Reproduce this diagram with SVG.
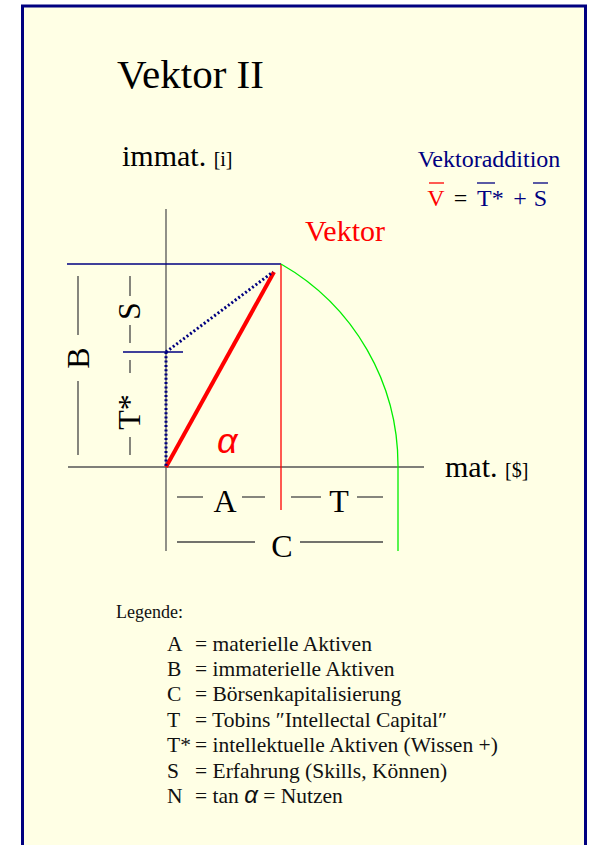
<svg xmlns="http://www.w3.org/2000/svg" width="589" height="845" viewBox="0 0 589 845">
<style>
.serif{font-family:"Liberation Serif","Times New Roman",serif;}
.ax{stroke:#555;stroke-width:1.3;fill:none;}
.dash{stroke:#444;stroke-width:1.3;fill:none;}
.nav{fill:#000080;}
.blk{fill:#000;}
.red{fill:#ff0000;}
.lg{font-family:"Liberation Serif","Times New Roman",serif;font-size:21.5px;fill:#111;}
.fm{font-family:"Liberation Serif","Times New Roman",serif;font-size:24px;}
</style>
<rect x="0" y="0" width="589" height="845" fill="#ffffff"/>
<rect x="22.5" y="6" width="563" height="860" fill="#ffffe5" stroke="#000080" stroke-width="3"/>

<g id="title"><text class="serif blk" x="117" y="88" font-size="41">Vektor II</text></g>

<g id="axis-labels">
<text class="serif blk" x="122" y="166" font-size="30">immat. <tspan font-size="20">[i]</tspan></text>
<text class="serif blk" x="445" y="477" font-size="30">mat. <tspan font-size="20">[$]</tspan></text>
</g>

<g id="vektoraddition">
<text class="serif nav" x="489" y="167" font-size="24" text-anchor="middle">Vektoraddition</text>
<text class="fm" x="436" y="206" text-anchor="middle" fill="#ff0000">V</text>
<text class="fm" x="460.5" y="206" text-anchor="middle" fill="#000">=</text>
<text class="fm" x="477" y="206" fill="#000080">T*</text>
<text class="fm" x="520" y="206" text-anchor="middle" fill="#000080">+</text>
<text class="fm" x="540.5" y="206" text-anchor="middle" fill="#000080">S</text>
<line x1="429" y1="183" x2="444" y2="183" stroke="#ff0000" stroke-width="1.3"/>
<line x1="477" y1="183" x2="495" y2="183" stroke="#000080" stroke-width="1.3"/>
<line x1="533" y1="183" x2="548" y2="183" stroke="#000080" stroke-width="1.3"/>
</g>

<g id="vektor-label"><text class="serif red" x="305" y="241" font-size="30">Vektor</text></g>

<g id="connectors">
<line class="ax" x1="166" y1="209" x2="166" y2="551"/>
<line class="ax" x1="68" y1="467" x2="424" y2="467"/>
<line x1="67" y1="264" x2="281" y2="264" stroke="#000080" stroke-width="1.3"/>
<line x1="281" y1="264" x2="281" y2="510" stroke="#ff0000" stroke-width="1.3"/>
<path d="M281 264 A232 232 0 0 1 398 467 L398 551" fill="none" stroke="#00ee00" stroke-width="1.3"/>
<line x1="123" y1="352" x2="183" y2="352" stroke="#000080" stroke-width="1.3"/>
<line x1="166" y1="467" x2="274" y2="272" stroke="#ff0000" stroke-width="4"/>
<line x1="166" y1="352" x2="273" y2="272" stroke="#000080" stroke-width="3" stroke-dasharray="2 2.3"/>
<line x1="166" y1="352" x2="166" y2="466" stroke="#000080" stroke-width="3" stroke-dasharray="2 2.3"/>
</g>

<g id="label-B">
<line class="dash" x1="78" y1="276" x2="78" y2="335"/>
<line class="dash" x1="78" y1="381" x2="78" y2="455"/>
<text class="serif blk" font-size="32" text-anchor="middle" transform="translate(89 358) rotate(-90)">B</text>
</g>
<g id="label-S">
<line class="dash" x1="130" y1="276" x2="130" y2="296"/>
<line class="dash" x1="130" y1="325" x2="130" y2="343"/>
<text class="serif blk" font-size="32" text-anchor="middle" transform="translate(140 311) rotate(-90)">S</text>
</g>
<g id="label-Tstar">
<line class="dash" x1="130" y1="360" x2="130" y2="373"/>
<line class="dash" x1="130" y1="437" x2="130" y2="455"/>
<text class="serif blk" font-size="32" text-anchor="middle" transform="translate(140 412) rotate(-90)">T*</text>
</g>
<g id="label-A">
<line class="dash" x1="177" y1="497" x2="203" y2="497"/>
<line class="dash" x1="242" y1="497" x2="265" y2="497"/>
<text class="serif blk" x="225" y="512" font-size="32" text-anchor="middle">A</text>
</g>
<g id="label-T">
<line class="dash" x1="291" y1="497" x2="321" y2="497"/>
<line class="dash" x1="357" y1="497" x2="383" y2="497"/>
<text class="serif blk" x="339" y="512" font-size="32" text-anchor="middle">T</text>
</g>
<g id="label-C">
<line class="dash" x1="177" y1="542" x2="255" y2="542"/>
<line class="dash" x1="300" y1="542" x2="383" y2="542"/>
<text class="serif blk" x="282" y="557" font-size="32" text-anchor="middle">C</text>
</g>
<g id="alpha"><text x="217" y="453" font-family="Liberation Sans, Arial, sans-serif" font-style="italic" font-size="36" fill="#ff0000">α</text></g>

<g id="legend">
<text class="serif" x="116" y="618" font-size="18" fill="#111">Legende:</text>
<text class="lg" x="167" y="651">A</text><text class="lg" x="195" y="651">= materielle Aktiven</text>
<text class="lg" x="167" y="676">B</text><text class="lg" x="195" y="676">= immaterielle Aktiven</text>
<text class="lg" x="167" y="701">C</text><text class="lg" x="195" y="701">= Börsenkapitalisierung</text>
<text class="lg" x="167" y="727">T</text><text class="lg" x="195" y="727">= Tobins ″Intellectal Capital″</text>
<text class="lg" x="167" y="752">T*</text><text class="lg" x="195" y="752">= intellektuelle Aktiven (Wissen +)</text>
<text class="lg" x="167" y="778">S</text><text class="lg" x="195" y="778">= Erfahrung (Skills, Können)</text>
<text class="lg" x="167" y="803">N</text><text class="lg" x="195" y="803">= tan <tspan font-family="Liberation Sans, Arial, sans-serif" font-style="italic" font-size="24">α</tspan> = Nutzen</text>
</g>
</svg>
